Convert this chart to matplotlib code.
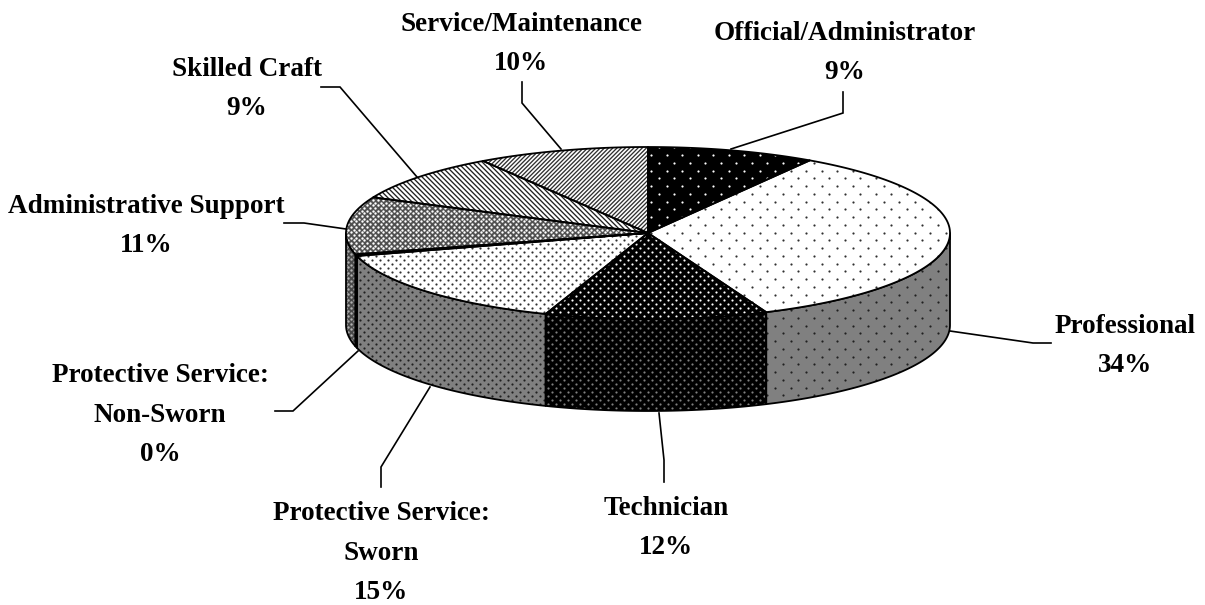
import numpy as np
import matplotlib
matplotlib.use('Agg')
import matplotlib.pyplot as plt
from matplotlib.patches import Polygon
from matplotlib.collections import LineCollection

# slices clockwise from 12 o'clock
categories = ['Official/Administrator', 'Professional', 'Technician',
              'Protective Service:\nSworn', 'Protective Service:\nNon-Sworn',
              'Administrative Support', 'Skilled Craft', 'Service/Maintenance']
# shares as drawn in the picture, the printed labels are below
values = [9.0, 34.6, 11.9, 15.2, 0.3, 10.8, 9.0, 9.2]
percent_labels = ['9%', '34%', '12%', '15%', '0%', '11%', '9%', '10%']

# label centres and leader lines, in pixels of the 1205x605 picture
label_x = [845, 1125, 666, 381, 160, 146, 247, 521]
label_y = [53, 346, 528, 553, 415, 226, 89, 44]
leaders = [
    [(843, 92), (843, 113), (731, 149)],
    [(1051, 343), (1033, 343), (950, 331)],
    [(664, 482), (664, 460), (659, 413)],
    [(381, 487), (381, 467), (430, 387)],
    [(275, 411), (293, 411), (358, 351)],
    [(284, 223), (304, 223), (346, 229)],
    [(321, 87), (340, 87), (417, 177)],
    [(522, 82), (522, 103), (561, 149)],
]

# pie geometry
cx, cy = 648, 233
rx, ry = 302, 86
depth = 92

# top and side texture of each slice
top_styles = [
    dict(face='black', kind='dots', dx=15.5, dy=7.75, color='white', s=2.5),
    dict(face='white', kind='dots', dx=15.5, dy=7.75, color='#303030', s=2.5),
    dict(face='black', kind='dots', dx=8, dy=4, color='white', s=2.5),
    dict(face='white', kind='dots', dx=8, dy=4, color='#303030', s=2.5),
    dict(face='black', kind=None),
    dict(face='#505050', kind='dots', dx=5.4, dy=2.7, color='white', s=3),
    dict(face='white', kind='lines', step=5.0, slope=1, color='#202020'),
    dict(face='white', kind='lines', step=4.2, slope=-1, color='#303030'),
]
side_styles = [
    None,
    dict(face='#808080', kind='dots', dx=15.5, dy=7.75, color='#202020', s=2.5),
    dict(face='black', kind='dots', dx=8, dy=4, color='#808080', s=2.5),
    dict(face='#808080', kind='dots', dx=8, dy=4, color='#202020', s=2.5),
    dict(face='black', kind=None),
    dict(face='#484848', kind='dots', dx=5.4, dy=2.7, color='#b0b0b0', s=3),
    None,
    None,
]


def arc(t0, t1, dy=0):
    t = np.linspace(t0, t1, max(int(abs(t1 - t0) * 120), 2))
    return np.column_stack([cx + rx * np.sin(t), cy - ry * np.cos(t) + dy])


def texture(ax, patch, style):
    x0, x1 = patch.get_xy()[:, 0].min(), patch.get_xy()[:, 0].max()
    y0, y1 = patch.get_xy()[:, 1].min(), patch.get_xy()[:, 1].max()
    if style['kind'] == 'dots':
        dx, dy = style['dx'], style['dy']
        rows = np.arange(np.floor(y0 / dy), np.ceil(y1 / dy) + 1)
        xs, ys = [], []
        for r in rows:
            off = dx / 2 if int(r) % 2 else 0
            col = np.arange(np.floor(x0 / dx) * dx, x1 + dx, dx) + off
            xs.extend(col)
            ys.extend([r * dy] * len(col))
        sc = ax.scatter(xs, ys, s=style['s'], c=style['color'], linewidths=0, zorder=patch.get_zorder())
        sc.set_clip_path(patch)
    elif style['kind'] == 'lines':
        h = y1 - y0
        c = np.arange(x0 - h - 10, x1 + h + 10, style['step'])
        segs = [[(v, y0), (v + style['slope'] * h, y1)] for v in c]
        lc = LineCollection(segs, colors=style['color'], linewidths=0.95, zorder=patch.get_zorder())
        ax.add_collection(lc)
        lc.set_clip_path(patch)


def draw_patch(ax, pts, style, z):
    fill = Polygon(pts, closed=True, facecolor=style['face'], edgecolor='none', zorder=z)
    ax.add_patch(fill)
    texture(ax, fill, style)
    ax.add_patch(Polygon(pts, closed=True, fill=False, edgecolor='black', linewidth=1.3,
                         joinstyle='round', zorder=z + 0.5))


fig = plt.figure(figsize=(12.05, 6.05), dpi=100, facecolor='white')
ax = fig.add_axes([0, 0, 1, 1])
ax.set_xlim(0, 1205)
ax.set_ylim(605, 0)
ax.axis('off')

angles = 2 * np.pi * np.concatenate([[0], np.cumsum(values)]) / np.sum(values)

# side wall, only the front half of the ellipse shows
for i, style in enumerate(side_styles):
    if style is None:
        continue
    t0 = max(angles[i], np.pi / 2)
    t1 = min(angles[i + 1], 3 * np.pi / 2)
    if t1 <= t0:
        continue
    pts = np.vstack([arc(t0, t1), arc(t1, t0, depth)])
    draw_patch(ax, pts, style, 2)

# top face
for i, style in enumerate(top_styles):
    pts = np.vstack([[(cx, cy)], arc(angles[i], angles[i + 1])])
    draw_patch(ax, pts, style, 4)

for path in leaders:
    xs, ys = zip(*path)
    ax.plot(xs, ys, color='black', lw=1.2, solid_joinstyle='miter', zorder=1)

for name, pct, x, y in zip(categories, percent_labels, label_x, label_y):
    ax.text(x, y, f'{name}\n{pct}', ha='center', va='center', multialignment='center',
            family='Liberation Serif', weight='bold', fontsize=19.5, linespacing=1.77, color='black')

fig.savefig('out.png', dpi=100, facecolor='white')
